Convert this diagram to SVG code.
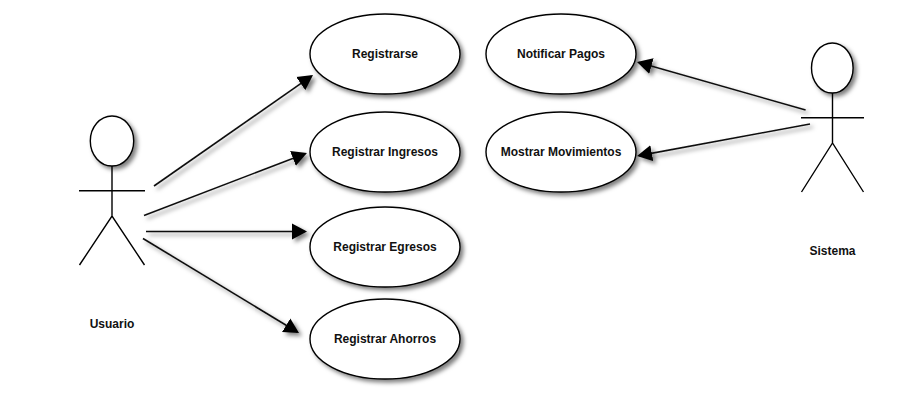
<svg xmlns="http://www.w3.org/2000/svg" width="922" height="407" viewBox="0 0 922 407">
  <style>
    .shape { fill: #fff; stroke: #000; stroke-width: 1.4; filter: url(#shadow); }
    .stick { fill: none; stroke: #000; stroke-width: 1.4; }
    .conn { fill: none; stroke: #111; stroke-width: 1.6; marker-end: url(#arrow); }
    text { font-family: "Liberation Sans", Arial, sans-serif; font-size: 12px; font-weight: bold; fill: #111; text-anchor: middle; }
  </style>
  <defs>
    <filter id="shadow" filterUnits="userSpaceOnUse" x="0" y="0" width="922" height="407">
      <feDropShadow dx="3" dy="3" stdDeviation="2" flood-color="#000" flood-opacity="0.5"/>
    </filter>
    <marker id="arrow" markerUnits="userSpaceOnUse" markerWidth="17" markerHeight="17" refX="13" refY="8.5" orient="auto">
      <path d="M0 0.5 L15 8.5 L0 16.5 Z" fill="#000"/>
    </marker>
  </defs>
  <rect width="922" height="407" fill="#fff"/>
  <g id="connectors" filter="url(#shadow)">
    <line class="conn" x1="154" y1="186" x2="311.4" y2="76.1"/>
    <line class="conn" x1="144" y1="215.5" x2="305.1" y2="153.7"/>
    <line class="conn" x1="146" y1="231.5" x2="305" y2="231.5"/>
    <line class="conn" x1="143" y1="238.5" x2="297.3" y2="332"/>
    <line class="conn" x1="805.6" y1="110" x2="638.9" y2="62.5"/>
    <line class="conn" x1="810" y1="124" x2="639" y2="155.6"/>
  </g>
  <g id="actor-usuario">
    <ellipse class="shape" cx="112" cy="141" rx="21.7" ry="25"/>
    <path class="stick" d="M112 166 V216 M79 190.7 H145 M79.5 265 L112 216 L144.5 265"/>
    <text x="112" y="328">Usuario</text>
  </g>
  <g id="actor-sistema">
    <ellipse class="shape" cx="832.3" cy="68" rx="20.8" ry="25"/>
    <path class="stick" d="M832.5 93 V143 M801 117.7 H864 M801.5 192 L832.5 143 L863.5 192"/>
    <text x="832.5" y="255">Sistema</text>
  </g>
  <g id="uc-registrarse">
    <ellipse class="shape" cx="385" cy="54" rx="75" ry="40"/>
    <text x="385" y="58">Registrarse</text>
  </g>
  <g id="uc-ingresos">
    <ellipse class="shape" cx="385" cy="152" rx="75" ry="40"/>
    <text x="385" y="156">Registrar Ingresos</text>
  </g>
  <g id="uc-egresos">
    <ellipse class="shape" cx="385" cy="247" rx="75" ry="40"/>
    <text x="385" y="251">Registrar Egresos</text>
  </g>
  <g id="uc-ahorros">
    <ellipse class="shape" cx="385" cy="339" rx="75" ry="40"/>
    <text x="385" y="343">Registrar Ahorros</text>
  </g>
  <g id="uc-notificar">
    <ellipse class="shape" cx="561" cy="54" rx="75" ry="40"/>
    <text x="561" y="58">Notificar Pagos</text>
  </g>
  <g id="uc-movimientos">
    <ellipse class="shape" cx="561" cy="152" rx="75" ry="40"/>
    <text x="561" y="156">Mostrar Movimientos</text>
  </g>
</svg>
